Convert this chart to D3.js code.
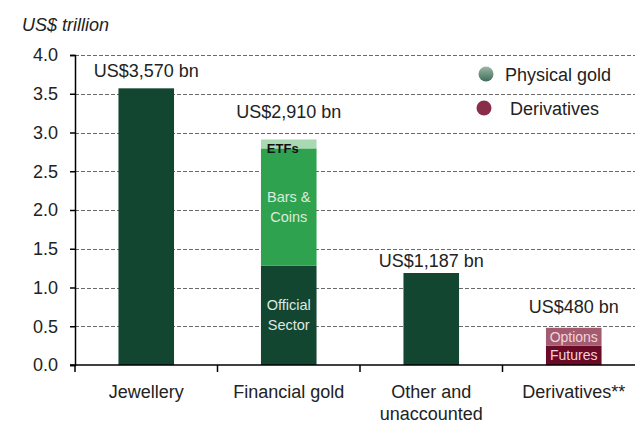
<!DOCTYPE html>
<html>
<head>
<meta charset="utf-8">
<script src="https://cdn.jsdelivr.net/npm/d3@7"></script>
<style>
  body { margin: 0; background: #fff; }
  svg text { font-family: "Liberation Sans", Arial, sans-serif; }
</style>
</head>
<body>
<div id="chart"></div>
<script>
// Gold market size chart, US$ trillion

var width = 635,
    height = 430,
    left = 75,
    top_ = 55,
    bottom = 365;

// categories and stacked segments (US$ trillion)
var categories = ["Jewellery", "Financial gold", "Other and unaccounted", "Derivatives**"];
var catLines = [["Jewellery"], ["Financial gold"], ["Other and", "unaccounted"], ["Derivatives**"]];
var segments = ["Jewellery", "Official Sector", "Bars & Coins", "ETFs", "Other", "Futures", "Options"];
var segCategory = ["Jewellery", "Financial gold", "Financial gold", "Financial gold", "Other and unaccounted", "Derivatives**", "Derivatives**"];
var segValues = [3.57, 1.28, 1.515, 0.115, 1.187, 0.25, 0.23];
var segColors = ["#124631", "#124631", "#2ea24f", "#a9d9b3", "#124631", "#6b0a26", "#a45b6f"];
var totalLabels = ["US$3,570 bn", "US$2,910 bn", "US$1,187 bn", "US$480 bn"];
var labelGap = [11, 21, 6, 15];
var yTicks = [0, 0.5, 1.0, 1.5, 2.0, 2.5, 3.0, 3.5, 4.0];

var x = d3.scaleBand().domain(categories).range([left, left + 4 * 142.5]).paddingInner(0.61).paddingOuter(0.305);
var y = d3.scaleLinear().domain([0, 4]).range([bottom, top_]);

var svg = d3.select("#chart").append("svg")
    .attr("width", width)
    .attr("height", height);

var defs = svg.append("defs");
var grad = defs.append("linearGradient").attr("id", "physGrad")
    .attr("x1", 0).attr("y1", 0).attr("x2", 0).attr("y2", 1);
grad.append("stop").attr("offset", "0%").attr("stop-color", "#9bb8a8");
grad.append("stop").attr("offset", "100%").attr("stop-color", "#3f6c58");

// dashed grid lines
svg.append("g").selectAll("line")
    .data(yTicks.filter(function(d) { return d > 0; }))
    .enter().append("line")
    .attr("x1", left).attr("x2", width)
    .attr("y1", function(d) { return Math.round(y(d)) + 0.5; })
    .attr("y2", function(d) { return Math.round(y(d)) + 0.5; })
    .attr("stroke", "#6a6a6a")
    .attr("stroke-width", 1)
    .attr("stroke-dasharray", "4,2");

// stacked bars
var base = {};
var segData = segValues.map(function(v, i) {
    var c = segCategory[i];
    var y0 = base[c] || 0;
    base[c] = y0 + v;
    return {name: segments[i], cat: c, y0: y0, y1: y0 + v, color: segColors[i]};
});

svg.append("g").selectAll("rect")
    .data(segData)
    .enter().append("rect")
    .attr("x", function(d) { return x(d.cat); })
    .attr("width", x.bandwidth())
    .attr("y", function(d) { return y(d.y1); })
    .attr("height", function(d) { return y(d.y0) - y(d.y1); })
    .attr("fill", function(d) { return d.color; });

// axes
var yAxis = svg.append("g")
    .attr("transform", "translate(" + left + ",0)")
    .call(d3.axisLeft(y).tickValues(yTicks).tickSize(5).tickFormat(d3.format(".1f")));
yAxis.select(".domain").attr("stroke", "#000").attr("stroke-width", 1.5);
yAxis.selectAll(".tick line").attr("stroke", "#000").attr("stroke-width", 1.5);
yAxis.selectAll("text")
    .attr("x", -17)
    .style("font-size", "18px")
    .attr("fill", "#222");

var xAxis = svg.append("g")
    .attr("transform", "translate(0," + bottom + ")");
xAxis.append("line")
    .attr("x1", left - 5).attr("x2", width)
    .attr("stroke", "#000").attr("stroke-width", 1.5);
// ticks sit at the band boundaries
xAxis.selectAll(".tk")
    .data(categories)
    .enter().append("line")
    .attr("class", "tk")
    .attr("x1", function(d) { return x(d) - x.step() * x.paddingOuter(); })
    .attr("x2", function(d) { return x(d) - x.step() * x.paddingOuter(); })
    .attr("y1", 0).attr("y2", 7)
    .attr("stroke", "#000").attr("stroke-width", 1.5);

// category labels
var catG = xAxis.selectAll(".cat")
    .data(categories)
    .enter().append("text")
    .attr("class", "cat")
    .attr("text-anchor", "middle")
    .style("font-size", "18px")
    .attr("fill", "#222")
    .attr("transform", function(d) { return "translate(" + (x(d) + x.bandwidth() / 2) + ",0)"; });
catG.selectAll("tspan")
    .data(function(d, i) { return catLines[i]; })
    .enter().append("tspan")
    .attr("x", 0)
    .attr("y", function(d, j) { return 33 + j * 22; })
    .text(function(d) { return d; });

// total labels
svg.append("g").selectAll("text")
    .data(categories)
    .enter().append("text")
    .attr("x", function(d) { return x(d) + x.bandwidth() / 2; })
    .attr("y", function(d, i) { return y(base[d]) - labelGap[i]; })
    .attr("text-anchor", "middle")
    .style("font-size", "18px")
    .attr("fill", "#222")
    .text(function(d, i) { return totalLabels[i]; });

// segment labels
function segLabel(name, lines, color, size, weight, dy, dx) {
    var d = segData.filter(function(s) { return s.name === name; })[0];
    var cx = x(d.cat) + x.bandwidth() / 2 + (dx || 0);
    var cy = (y(d.y0) + y(d.y1)) / 2 + dy;
    var t = svg.append("text")
        .attr("text-anchor", "middle")
        .style("font-size", size + "px")
        .style("font-weight", weight)
        .attr("fill", color);
    lines.forEach(function(l, j) {
        t.append("tspan").attr("x", cx)
            .attr("y", cy + (j - (lines.length - 1) / 2) * 20)
            .text(l);
    });
}
segLabel("ETFs", ["ETFs"], "#111", 13, "bold", 9, -6);
segLabel("Bars & Coins", ["Bars &", "Coins"], "#dcebdc", 14.5, "normal", 5);
segLabel("Official Sector", ["Official", "Sector"], "#dfe8e0", 14.5, "normal", 5);
segLabel("Options", ["Options"], "#f1d3dc", 14, "normal", 5);
segLabel("Futures", ["Futures"], "#f1d3dc", 14, "normal", 5);

// y axis title
svg.append("text")
    .attr("x", 22).attr("y", 31)
    .style("font-size", "18px")
    .style("font-style", "italic")
    .attr("fill", "#222")
    .text("US$ trillion");

// legend
var legend = [
    {label: "Physical gold", fill: "url(#physGrad)", cx: 486, cy: 74, tx: 505},
    {label: "Derivatives", fill: "#882e49", cx: 484, cy: 108, tx: 510}
];
var lg = svg.append("g").selectAll("g").data(legend).enter().append("g");
lg.append("circle")
    .attr("cx", function(d) { return d.cx; })
    .attr("cy", function(d) { return d.cy; })
    .attr("r", 7.5)
    .attr("fill", function(d) { return d.fill; });
lg.append("text")
    .attr("x", function(d) { return d.tx; })
    .attr("y", function(d) { return d.cy + 7; })
    .style("font-size", "18px")
    .attr("fill", "#222")
    .text(function(d) { return d.label; });
</script>
</body>
</html>
